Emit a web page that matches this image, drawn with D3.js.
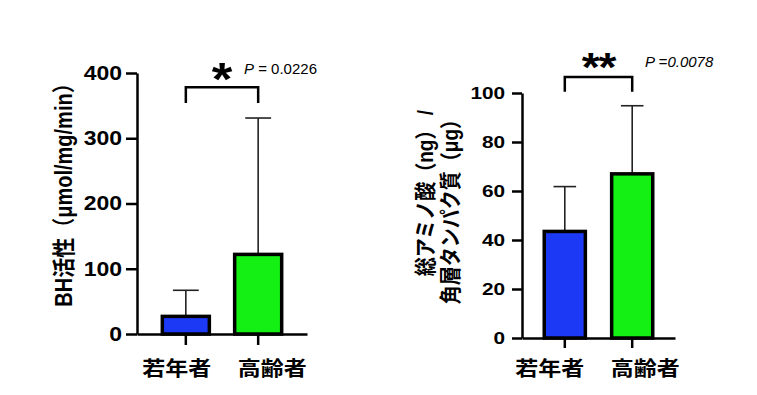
<!DOCTYPE html>
<html>
<head>
<meta charset="utf-8">
<script src="https://cdn.jsdelivr.net/npm/d3@7"></script>
<style>
  body { margin: 0; background: #fff; }
  svg { display: block; }
  text { font-family: "Liberation Sans", Arial, "Noto Sans CJK JP", sans-serif; fill: #000; }
</style>
</head>
<body>
<div id="chart"></div>
<script>
const groups = ["若年者", "高齢者"];
const barColors = ["#1c3af5", "#14f014"];

// BH activity
const bhMean = [27, 122];
const bhSD = [40, 209];
const bhTicks = [0, 100, 200, 300, 400];

// total amino acids / stratum corneum protein
const aaMean = [43.5, 67];
const aaSD = [18.3, 27.8];
const aaTicks = [0, 20, 40, 60, 80, 100];

const width = 757, height = 395;

const svg = d3.select("#chart").append("svg")
    .attr("width", width)
    .attr("height", height)
    .attr("viewBox", `0 0 ${width} ${height}`);

function drawPanel(opts) {
    const g = svg.append("g");

    const y = d3.scaleLinear()
        .domain([0, d3.max(opts.ticks)])
        .range(opts.yRange);

    const x = d3.scaleBand()
        .domain(groups)
        .range(opts.xRange)
        .paddingInner(opts.padInner)
        .paddingOuter(opts.padOuter);

    const data = groups.map((k, i) => ({ key: k, mean: opts.mean[i], sd: opts.sd[i], color: barColors[i] }));
    const bw = x.bandwidth();
    const cap = bw * 0.55;

    // error bars (upper only)
    const err = g.selectAll(".err").data(data).enter().append("g").attr("class", "err")
        .attr("stroke", "#222").attr("stroke-width", 1.6);
    err.append("line")
        .attr("x1", d => x(d.key) + bw / 2).attr("x2", d => x(d.key) + bw / 2)
        .attr("y1", d => y(d.mean)).attr("y2", d => y(d.mean + d.sd));
    err.append("line")
        .attr("x1", d => x(d.key) + bw / 2 - cap / 2).attr("x2", d => x(d.key) + bw / 2 + cap / 2)
        .attr("y1", d => y(d.mean + d.sd)).attr("y2", d => y(d.mean + d.sd));

    // bars
    g.selectAll(".bar").data(data).enter().append("rect")
        .attr("class", "bar")
        .attr("x", d => x(d.key))
        .attr("y", d => y(d.mean))
        .attr("width", bw)
        .attr("height", d => y(0) - y(d.mean))
        .attr("fill", d => d.color)
        .attr("stroke", "#000")
        .attr("stroke-width", 3.5);

    // y axis
    const yAxis = g.append("g")
        .attr("transform", `translate(${opts.xRange[0]},0)`)
        .call(d3.axisLeft(y).tickValues(opts.ticks).tickSize(opts.tickLen).tickSizeOuter(0).tickPadding(opts.tickPad));
    yAxis.select(".domain").attr("stroke-width", 2.5);
    yAxis.selectAll(".tick line").attr("stroke-width", 2.5);
    yAxis.selectAll(".tick text")
        .attr("font-size", opts.tickFont)
        .attr("font-weight", "bold")
        .attr("fill", "#111")
        .attr("transform", `scale(${opts.tickStretch},1)`);

    // x axis
    const xAxis = g.append("g")
        .attr("transform", `translate(0,${opts.yRange[0]})`)
        .call(d3.axisBottom(x).tickSize(opts.tickLen).tickSizeOuter(0).tickFormat(""));
    xAxis.select(".domain").attr("stroke-width", 2.5);
    xAxis.selectAll(".tick line").attr("stroke-width", 2.5);

    // category labels
    g.selectAll(".cat").data(data).enter().append("text")
        .attr("class", "cat")
        .attr("transform", (d, i) => `translate(${x(d.key) + bw / 2 + opts.labelShift[i]},376) scale(1.15,1)`)
        .attr("text-anchor", "middle")
        .attr("font-size", 20)
        .attr("font-weight", "bold")
        .text(d => d.key);

    // significance bracket
    const x1 = x(groups[0]) + bw / 2, x2 = x(groups[1]) + bw / 2;
    const yTop = y(opts.bracket[0]), yLow = y(opts.bracket[1]);
    g.append("path")
        .attr("d", `M${x1},${yLow}V${yTop}H${x2}V${yLow}`)
        .attr("fill", "none")
        .attr("stroke", "#000")
        .attr("stroke-width", 2.5);

    g.append("text")
        .attr("transform", `translate(${(x1 + x2) / 2},${yTop - 19 + opts.starFont * 0.57}) scale(1.15,1)`)
        .attr("text-anchor", "middle")
        .attr("font-size", opts.starFont)
        .attr("font-weight", "bold")
        .attr("letter-spacing", opts.starGap)
        .text(opts.stars);

    return { g, x, y, x1, x2, yTop };
}

// left panel
const left = drawPanel({
    mean: bhMean, sd: bhSD, ticks: bhTicks,
    yRange: [334, 73], xRange: [137, 307],
    padInner: 0.35, padOuter: 0.35,
    tickLen: 11, tickPad: 2, tickFont: 20, tickStretch: 1.15,
    labelShift: [-9, 14],
    bracket: [378, 354],
    stars: "*", starFont: 46, starGap: 0
});

const pL = left.g.append("text")
    .attr("x", 244).attr("y", 74)
    .attr("font-size", 15)
    .attr("fill", "#222");
pL.append("tspan").attr("font-style", "italic").text("P");
pL.append("tspan").text(" = 0.0226");

left.g.append("text")
    .attr("transform", "translate(64,190) scale(1.15,1) rotate(-90)")
    .attr("text-anchor", "middle")
    .attr("dominant-baseline", "central")
    .attr("font-size", 20)
    .attr("font-weight", "bold")
    .text("BH活性（μmol/mg/min）");

// right panel
const right = drawPanel({
    mean: aaMean, sd: aaSD, ticks: aaTicks,
    yRange: [338, 93], xRange: [522, 675],
    padInner: 0.39, padOuter: 0.33,
    tickLen: 10, tickPad: 3, tickFont: 16, tickStretch: 1.3,
    labelShift: [-15, 13],
    bracket: [106.5, 100.5],
    stars: "**", starFont: 40, starGap: -1
});

right.g.append("text")
    .attr("x", 645).attr("y", 67)
    .attr("font-size", 15)
    .attr("font-style", "italic")
    .attr("fill", "#222")
    .text("P =0.0078");

const yLab = [
    { text: "総アミノ酸（ng） /", x: 425 },
    { text: "角層タンパク質（μg）", x: 450 }
];
right.g.selectAll(".ylab").data(yLab).enter().append("text")
    .attr("class", "ylab")
    .attr("transform", d => `translate(${d.x},110) scale(1.15,1) rotate(-90)`)
    .attr("text-anchor", "end")
    .attr("dominant-baseline", "central")
    .attr("font-family", "'Liberation Sans', 'Noto Sans CJK JP', sans-serif")
    .attr("font-size", 19)
    .attr("font-weight", "bold")
    .text(d => d.text);
</script>
</body>
</html>
